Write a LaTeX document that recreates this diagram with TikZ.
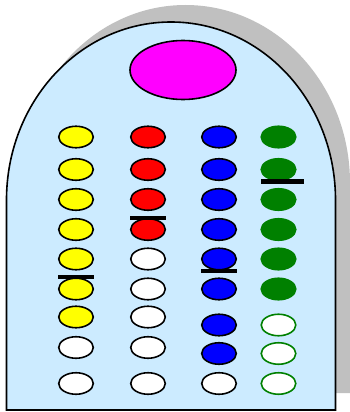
\documentclass[tikz,border=0pt]{standalone}
\usetikzlibrary{shapes.geometric}
\definecolor{bodyblue}{RGB}{204,235,255}
\definecolor{shadowgray}{RGB}{192,192,192}
\definecolor{pgreen}{RGB}{0,128,0}
\definecolor{pmagenta}{RGB}{255,0,255}
\definecolor{pyellow}{RGB}{255,255,0}
\definecolor{pred}{RGB}{255,0,0}
\definecolor{pblue}{RGB}{0,0,255}
\tikzset{
  peg/.style={ellipse, draw=black, line width=1.6pt, minimum width=34.5pt, minimum height=21.5pt, inner sep=0pt},
  gpeg/.style={peg, draw=pgreen, fill=pgreen},
  gopen/.style={peg, draw=pgreen, fill=white},
  bar/.style={line width=4pt, black},
}
\begin{document}
\begin{tikzpicture}[x=1pt,y=-1pt]
\useasboundingbox (0,0) rectangle (350,412);
% shadow
\fill[shadowgray] (21,393) -- (21,183) arc[start angle=180, end angle=360, x radius=164.5, y radius=178] -- (350,393) -- cycle;
% body
\draw[line width=1.6pt, fill=bodyblue] (6.5,410) -- (6.5,200) arc[start angle=180, end angle=360, x radius=164.5, y radius=178] -- (335.5,410) -- cycle;
% top ellipse
\node[ellipse, draw=black, line width=1.6pt, fill=pmagenta, minimum width=106pt, minimum height=59pt, inner sep=0pt] (top) at (183,70) {};
% yellow column
\foreach \i/\y/\c in {1/137/pyellow,2/169.5/pyellow,3/199.5/pyellow,4/229.5/pyellow,5/259/pyellow,6/289/pyellow,7/317/pyellow,8/347.5/white,9/383.5/white}
  \node[peg, fill=\c] (y\i) at (76,\y) {};
% red column
\foreach \i/\y/\c in {1/137/pred,2/169.5/pred,3/199.5/pred,4/229.5/pred,5/259/white,6/289/white,7/317/white,8/347.5/white,9/383.5/white}
  \node[peg, fill=\c] (r\i) at (148,\y) {};
% blue column
\foreach \i/\y/\c in {1/137/pblue,2/169.5/pblue,3/199.5/pblue,4/229.5/pblue,5/259/pblue,6/289/pblue,7/325/pblue,8/353.5/pblue,9/383.5/white}
  \node[peg, fill=\c] (b\i) at (219,\y) {};
% green column
\foreach \i/\y in {1/137,2/169.5,3/199.5,4/229.5,5/259,6/289}
  \node[gpeg] (g\i) at (278.5,\y) {};
\foreach \i/\y in {7/325,8/353.5,9/383.5}
  \node[gopen] (g\i) at (278.5,\y) {};
% bars
\draw[bar] (y6.north) ++(-18,0) -- ++(36,0);
\draw[bar] (r4.north) ++(-18,0) -- ++(36,0);
\draw[bar] (b5.south) ++(-18,0) -- ++(36,0);
\draw[line width=5pt] (g2.south) ++(-17.5,0) -- ++(43,0);
\end{tikzpicture}
\end{document}
